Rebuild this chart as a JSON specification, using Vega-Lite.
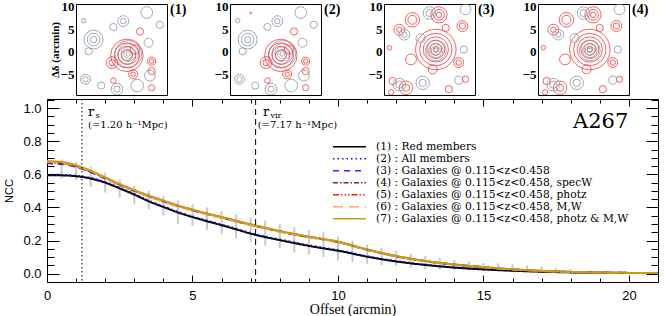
{
  "$schema": "https://vega.github.io/schema/vega-lite/v6.json",
  "padding": {"left": 3, "top": 0, "right": 0, "bottom": 0},
  "spacing": 2,
  "config": {
    "view": {"stroke": "black", "strokeWidth": 1},
    "axis": {"domain": false, "grid": false, "labelColor": "black", "titleColor": "black", "tickColor": "black", "tickWidth": 1}
  },
  "datasets": {
    "contours": [
      {"p":1,"c":"grey","x":1.5,"y":-0.5,"r":0.5},{"p":1,"c":"grey","x":1.5,"y":-0.5,"r":1},{"p":1,"c":"grey","x":1.5,"y":-0.5,"r":1.6},{"p":1,"c":"grey","x":1.5,"y":-0.5,"r":2.3},{"p":1,"c":"grey","x":1.5,"y":-0.5,"r":3.0},
      {"p":1,"c":"grey","x":-6.2,"y":2.7,"r":0.7},{"p":1,"c":"grey","x":-6.2,"y":2.7,"r":1.4},{"p":1,"c":"grey","x":-6.2,"y":2.7,"r":2.1},
      {"p":1,"c":"grey","x":-7.3,"y":0.1,"r":0.8},{"p":1,"c":"grey","x":0.4,"y":6.8,"r":0.6},{"p":1,"c":"grey","x":0.4,"y":6.8,"r":1.2},
      {"p":1,"c":"grey","x":-1.8,"y":5.5,"r":0.8},{"p":1,"c":"grey","x":5.6,"y":8.7,"r":1.3},{"p":1,"c":"grey","x":8.5,"y":6,"r":0.8},
      {"p":1,"c":"grey","x":-8.4,"y":6.9,"r":0.5},{"p":1,"c":"grey","x":-8,"y":-6.1,"r":0.6},{"p":1,"c":"grey","x":-8,"y":-6.1,"r":1.1},
      {"p":1,"c":"grey","x":-1,"y":-8.3,"r":0.7},{"p":1,"c":"grey","x":-1,"y":-8.3,"r":1.3},{"p":1,"c":"grey","x":6.3,"y":-5.3,"r":1.2},
      {"p":1,"c":"grey","x":3.5,"y":-7.5,"r":1.4},{"p":1,"c":"grey","x":-4.5,"y":-7.5,"r":0.8},{"p":1,"c":"grey","x":6,"y":2,"r":1.0},
      {"p":1,"c":"red","x":1.2,"y":-0.8,"r":1.2},{"p":1,"c":"red","x":1.2,"y":-0.8,"r":2.0},{"p":1,"c":"red","x":1.2,"y":-0.8,"r":2.8},{"p":1,"c":"red","x":1.2,"y":-0.8,"r":3.6},
      {"p":1,"c":"red","x":-2.1,"y":-2.4,"r":0.7},{"p":1,"c":"red","x":-2.1,"y":-2.4,"r":1.3},{"p":1,"c":"red","x":6.7,"y":-2.1,"r":0.5},{"p":1,"c":"red","x":6.7,"y":-2.1,"r":0.9},
      {"p":1,"c":"red","x":6.7,"y":-4.3,"r":0.8},{"p":1,"c":"red","x":2.6,"y":-5,"r":0.5},{"p":1,"c":"red","x":2.6,"y":-5,"r":1.0},
      {"p":1,"c":"red","x":4.1,"y":4.5,"r":0.8},{"p":1,"c":"red","x":6.7,"y":-8,"r":0.7},{"p":1,"c":"red","x":-1.8,"y":-6.4,"r":0.6},{"p":1,"c":"red","x":3,"y":0.5,"r":1.0},

      {"p":2,"c":"grey","x":1.5,"y":-0.5,"r":0.5},{"p":2,"c":"grey","x":1.5,"y":-0.5,"r":1},{"p":2,"c":"grey","x":1.5,"y":-0.5,"r":1.6},{"p":2,"c":"grey","x":1.5,"y":-0.5,"r":2.3},{"p":2,"c":"grey","x":1.5,"y":-0.5,"r":3.0},
      {"p":2,"c":"grey","x":-6.2,"y":2.7,"r":0.7},{"p":2,"c":"grey","x":-6.2,"y":2.7,"r":1.4},{"p":2,"c":"grey","x":-6.2,"y":2.7,"r":2.1},
      {"p":2,"c":"grey","x":-7.3,"y":0.1,"r":0.8},{"p":2,"c":"grey","x":0.4,"y":6.8,"r":0.6},{"p":2,"c":"grey","x":0.4,"y":6.8,"r":1.2},
      {"p":2,"c":"grey","x":-1.8,"y":5.5,"r":0.8},{"p":2,"c":"grey","x":5.6,"y":8.7,"r":1.3},{"p":2,"c":"grey","x":8.5,"y":6,"r":0.8},
      {"p":2,"c":"grey","x":-8.4,"y":6.9,"r":0.5},{"p":2,"c":"grey","x":-8,"y":-6.1,"r":0.6},{"p":2,"c":"grey","x":-8,"y":-6.1,"r":1.1},
      {"p":2,"c":"grey","x":-1,"y":-8.3,"r":0.7},{"p":2,"c":"grey","x":-1,"y":-8.3,"r":1.3},{"p":2,"c":"grey","x":6.3,"y":-5.3,"r":1.2},
      {"p":2,"c":"grey","x":3.5,"y":-7.5,"r":1.4},{"p":2,"c":"grey","x":-4.5,"y":-7.5,"r":0.8},{"p":2,"c":"grey","x":6,"y":2,"r":1.0},
      {"p":2,"c":"red","x":1.2,"y":-0.8,"r":1.2},{"p":2,"c":"red","x":1.2,"y":-0.8,"r":2.0},{"p":2,"c":"red","x":1.2,"y":-0.8,"r":2.8},{"p":2,"c":"red","x":1.2,"y":-0.8,"r":3.6},
      {"p":2,"c":"red","x":-2.1,"y":-2.4,"r":0.7},{"p":2,"c":"red","x":-2.1,"y":-2.4,"r":1.3},{"p":2,"c":"red","x":6.7,"y":-2.1,"r":0.5},{"p":2,"c":"red","x":6.7,"y":-2.1,"r":0.9},
      {"p":2,"c":"red","x":6.7,"y":-4.3,"r":0.8},{"p":2,"c":"red","x":2.6,"y":-5,"r":0.5},{"p":2,"c":"red","x":2.6,"y":-5,"r":1.0},
      {"p":2,"c":"red","x":4.1,"y":4.5,"r":0.8},{"p":2,"c":"red","x":6.7,"y":-8,"r":0.7},{"p":2,"c":"red","x":-1.8,"y":-6.4,"r":0.6},{"p":2,"c":"red","x":3,"y":0.5,"r":1.0},
      {"p":2,"c":"red","x":-5.5,"y":8.6,"r":0.2},

      {"p":3,"c":"red","x":1.4,"y":0.5,"r":0.6},{"p":3,"c":"red","x":1.4,"y":0.5,"r":1.3},{"p":3,"c":"red","x":1.4,"y":0.5,"r":2.0},{"p":3,"c":"red","x":1.4,"y":0.5,"r":2.8},{"p":3,"c":"red","x":1.4,"y":0.5,"r":3.6},{"p":3,"c":"red","x":1.4,"y":0.5,"r":4.5},
      {"p":3,"c":"red","x":2.1,"y":8.2,"r":0.6},{"p":3,"c":"red","x":2.1,"y":8.2,"r":1.2},{"p":3,"c":"red","x":2.1,"y":8.2,"r":1.8},
      {"p":3,"c":"red","x":-3.8,"y":7.1,"r":1.0},{"p":3,"c":"red","x":-3.8,"y":7.1,"r":1.6},{"p":3,"c":"red","x":-6.7,"y":4.9,"r":0.6},{"p":3,"c":"red","x":-6.7,"y":4.9,"r":1.2},
      {"p":3,"c":"red","x":3.6,"y":5.3,"r":0.8},{"p":3,"c":"red","x":7.3,"y":5.7,"r":0.7},{"p":3,"c":"red","x":7.3,"y":5.7,"r":1.2},
      {"p":3,"c":"red","x":6.5,"y":-2.4,"r":0.6},{"p":3,"c":"red","x":6.5,"y":-2.4,"r":1.1},{"p":3,"c":"red","x":8,"y":-6.1,"r":0.7},
      {"p":3,"c":"red","x":-8.2,"y":-6.5,"r":0.8},{"p":3,"c":"red","x":-5.2,"y":-8,"r":0.8},{"p":3,"c":"red","x":-5.2,"y":-8,"r":1.5},
      {"p":3,"c":"red","x":4.3,"y":-8.3,"r":0.8},{"p":3,"c":"red","x":0.7,"y":-3.9,"r":1.0},{"p":3,"c":"red","x":-4.1,"y":-1.7,"r":1.2},
      {"p":3,"c":"red","x":-8.9,"y":0.9,"r":0.5},{"p":3,"c":"red","x":-8.5,"y":-9,"r":0.6},
      {"p":3,"c":"grey","x":1.4,"y":0.3,"r":0.5},{"p":3,"c":"grey","x":1.4,"y":0.3,"r":1.0},{"p":3,"c":"grey","x":1.4,"y":0.3,"r":1.6},{"p":3,"c":"grey","x":1.4,"y":0.3,"r":2.3},
      {"p":3,"c":"grey","x":-5.6,"y":3.8,"r":0.6},{"p":3,"c":"grey","x":-5.6,"y":3.8,"r":1.2},{"p":3,"c":"grey","x":0,"y":8.6,"r":0.8},{"p":3,"c":"grey","x":0,"y":8.6,"r":1.4},
      {"p":3,"c":"grey","x":8,"y":9.4,"r":1.2},{"p":3,"c":"grey","x":-1.5,"y":-6.9,"r":0.8},{"p":3,"c":"grey","x":-1.5,"y":-6.9,"r":1.5},
      {"p":3,"c":"grey","x":-6.7,"y":-7.3,"r":0.8},{"p":3,"c":"grey","x":-6.7,"y":-7.3,"r":1.4},{"p":3,"c":"grey","x":6.5,"y":-6.3,"r":0.9},
      {"p":3,"c":"grey","x":7.6,"y":0.5,"r":0.8},{"p":3,"c":"grey","x":-2,"y":3,"r":1.0},

      {"p":4,"c":"red","x":1.4,"y":0.5,"r":0.6},{"p":4,"c":"red","x":1.4,"y":0.5,"r":1.3},{"p":4,"c":"red","x":1.4,"y":0.5,"r":2.0},{"p":4,"c":"red","x":1.4,"y":0.5,"r":2.8},{"p":4,"c":"red","x":1.4,"y":0.5,"r":3.6},{"p":4,"c":"red","x":1.4,"y":0.5,"r":4.5},
      {"p":4,"c":"red","x":2.1,"y":8.2,"r":0.6},{"p":4,"c":"red","x":2.1,"y":8.2,"r":1.2},{"p":4,"c":"red","x":2.1,"y":8.2,"r":1.8},
      {"p":4,"c":"red","x":-3.8,"y":7.1,"r":1.0},{"p":4,"c":"red","x":-3.8,"y":7.1,"r":1.6},{"p":4,"c":"red","x":-6.7,"y":4.9,"r":0.6},{"p":4,"c":"red","x":-6.7,"y":4.9,"r":1.2},
      {"p":4,"c":"red","x":3.6,"y":5.3,"r":0.8},{"p":4,"c":"red","x":7.3,"y":5.7,"r":0.7},{"p":4,"c":"red","x":7.3,"y":5.7,"r":1.2},
      {"p":4,"c":"red","x":6.5,"y":-2.4,"r":0.6},{"p":4,"c":"red","x":6.5,"y":-2.4,"r":1.1},{"p":4,"c":"red","x":8,"y":-6.1,"r":0.7},
      {"p":4,"c":"red","x":-8.2,"y":-6.5,"r":0.8},{"p":4,"c":"red","x":-5.2,"y":-8,"r":0.8},{"p":4,"c":"red","x":-5.2,"y":-8,"r":1.5},
      {"p":4,"c":"red","x":4.3,"y":-8.3,"r":0.8},{"p":4,"c":"red","x":0.7,"y":-3.9,"r":1.0},{"p":4,"c":"red","x":-4.1,"y":-1.7,"r":1.2},
      {"p":4,"c":"red","x":-8.9,"y":0.9,"r":0.5},{"p":4,"c":"red","x":-8.5,"y":-9,"r":0.6},
      {"p":4,"c":"grey","x":1.4,"y":0.3,"r":0.5},{"p":4,"c":"grey","x":1.4,"y":0.3,"r":1.0},{"p":4,"c":"grey","x":1.4,"y":0.3,"r":1.6},{"p":4,"c":"grey","x":1.4,"y":0.3,"r":2.3},
      {"p":4,"c":"grey","x":-5.6,"y":3.8,"r":0.6},{"p":4,"c":"grey","x":-5.6,"y":3.8,"r":1.2},{"p":4,"c":"grey","x":0,"y":8.6,"r":0.8},{"p":4,"c":"grey","x":0,"y":8.6,"r":1.4},
      {"p":4,"c":"grey","x":8,"y":9.4,"r":1.2},{"p":4,"c":"grey","x":-1.5,"y":-6.9,"r":0.8},{"p":4,"c":"grey","x":-1.5,"y":-6.9,"r":1.5},
      {"p":4,"c":"grey","x":-6.7,"y":-7.3,"r":0.8},{"p":4,"c":"grey","x":-6.7,"y":-7.3,"r":1.4},{"p":4,"c":"grey","x":6.5,"y":-6.3,"r":0.9},
      {"p":4,"c":"grey","x":7.6,"y":0.5,"r":0.8},{"p":4,"c":"grey","x":-2,"y":3,"r":1.0}
    ],
    "panels": [{"p":1,"t":"(1)"},{"p":2,"t":"(2)"},{"p":3,"t":"(3)"},{"p":4,"t":"(4)"}],
    "names": [
      {"key":"s1","label":"(1) : Red members"},
      {"key":"s2","label":"(2) : All members"},
      {"key":"s3","label":"(3) : Galaxies @ 0.115<z<0.458"},
      {"key":"s4","label":"(4) : Galaxies @ 0.115<z<0.458, specW"},
      {"key":"s5","label":"(5) : Galaxies @ 0.115<z<0.458, photz"},
      {"key":"s6","label":"(6) : Galaxies @ 0.115<z<0.458, M,W"},
      {"key":"s7","label":"(7) : Galaxies @ 0.115<z<0.458, photz & M,W"}
    ],
    "curves": [
      {"x":0,"s1":0.595,"s2":0.598,"s3":0.667,"s4":0.671,"s5":0.674,"s6":0.676,"s7":0.68},
      {"x":0.5,"s1":0.594,"s2":0.597,"s3":0.663,"s4":0.667,"s5":0.669,"s6":0.671,"s7":0.675},
      {"x":1,"s1":0.589,"s2":0.592,"s3":0.645,"s4":0.648,"s5":0.65,"s6":0.652,"s7":0.655},
      {"x":1.5,"s1":0.575,"s2":0.579,"s3":0.614,"s4":0.617,"s5":0.618,"s6":0.619,"s7":0.622},
      {"x":2,"s1":0.55,"s2":0.554,"s3":0.575,"s4":0.578,"s5":0.579,"s6":0.578,"s7":0.582},
      {"x":2.5,"s1":0.515,"s2":0.519,"s3":0.536,"s4":0.538,"s5":0.539,"s6":0.537,"s7":0.542},
      {"x":3,"s1":0.478,"s2":0.482,"s3":0.5,"s4":0.502,"s5":0.503,"s6":0.5,"s7":0.505},
      {"x":3.5,"s1":0.437,"s2":0.441,"s3":0.467,"s4":0.469,"s5":0.47,"s6":0.466,"s7":0.472},
      {"x":4,"s1":0.403,"s2":0.407,"s3":0.437,"s4":0.439,"s5":0.44,"s6":0.436,"s7":0.442},
      {"x":4.5,"s1":0.37,"s2":0.374,"s3":0.408,"s4":0.41,"s5":0.411,"s6":0.406,"s7":0.412},
      {"x":5,"s1":0.342,"s2":0.346,"s3":0.383,"s4":0.385,"s5":0.386,"s6":0.381,"s7":0.387},
      {"x":5.5,"s1":0.317,"s2":0.321,"s3":0.36,"s4":0.362,"s5":0.363,"s6":0.358,"s7":0.364},
      {"x":6,"s1":0.293,"s2":0.297,"s3":0.339,"s4":0.341,"s5":0.342,"s6":0.337,"s7":0.343},
      {"x":6.5,"s1":0.268,"s2":0.272,"s3":0.317,"s4":0.318,"s5":0.319,"s6":0.314,"s7":0.32},
      {"x":7,"s1":0.242,"s2":0.246,"s3":0.295,"s4":0.296,"s5":0.297,"s6":0.292,"s7":0.298},
      {"x":7.5,"s1":0.221,"s2":0.225,"s3":0.275,"s4":0.276,"s5":0.277,"s6":0.273,"s7":0.278},
      {"x":8,"s1":0.203,"s2":0.207,"s3":0.255,"s4":0.256,"s5":0.257,"s6":0.254,"s7":0.258},
      {"x":8.5,"s1":0.185,"s2":0.189,"s3":0.237,"s4":0.238,"s5":0.239,"s6":0.236,"s7":0.24},
      {"x":9,"s1":0.168,"s2":0.172,"s3":0.221,"s4":0.222,"s5":0.223,"s6":0.22,"s7":0.224},
      {"x":9.5,"s1":0.153,"s2":0.157,"s3":0.207,"s4":0.208,"s5":0.209,"s6":0.206,"s7":0.21},
      {"x":10,"s1":0.139,"s2":0.143,"s3":0.191,"s4":0.192,"s5":0.193,"s6":0.191,"s7":0.194},
      {"x":11,"s1":0.103,"s2":0.106,"s3":0.145,"s4":0.146,"s5":0.146,"s6":0.145,"s7":0.147},
      {"x":12,"s1":0.074,"s2":0.077,"s3":0.105,"s4":0.106,"s5":0.106,"s6":0.106,"s7":0.107},
      {"x":13,"s1":0.053,"s2":0.055,"s3":0.076,"s4":0.076,"s5":0.077,"s6":0.076,"s7":0.077},
      {"x":14,"s1":0.037,"s2":0.039,"s3":0.055,"s4":0.055,"s5":0.056,"s6":0.055,"s7":0.056},
      {"x":15,"s1":0.026,"s2":0.027,"s3":0.039,"s4":0.039,"s5":0.04,"s6":0.039,"s7":0.04},
      {"x":16,"s1":0.018,"s2":0.019,"s3":0.026,"s4":0.026,"s5":0.027,"s6":0.026,"s7":0.027},
      {"x":17,"s1":0.012,"s2":0.013,"s3":0.017,"s4":0.017,"s5":0.017,"s6":0.017,"s7":0.017},
      {"x":18,"s1":0.008,"s2":0.009,"s3":0.011,"s4":0.011,"s5":0.011,"s6":0.011,"s7":0.011},
      {"x":19,"s1":0.006,"s2":0.006,"s3":0.007,"s4":0.007,"s5":0.007,"s6":0.007,"s7":0.007},
      {"x":20,"s1":0.004,"s2":0.005,"s3":0.005,"s4":0.005,"s5":0.005,"s6":0.005,"s7":0.005},
      {"x":21,"s1":0.004,"s2":0.004,"s3":0.004,"s4":0.004,"s5":0.004,"s6":0.004,"s7":0.004}
    ],
    "errbars": [
      {"x":0.5,"lo":0.575,"hi":0.69},{"x":1,"lo":0.565,"hi":0.675},{"x":1.5,"lo":0.525,"hi":0.65},
      {"x":2,"lo":0.49,"hi":0.61},{"x":2.5,"lo":0.46,"hi":0.57},{"x":3,"lo":0.42,"hi":0.53},
      {"x":3.5,"lo":0.39,"hi":0.5},{"x":4,"lo":0.35,"hi":0.47},{"x":4.5,"lo":0.3,"hi":0.44},
      {"x":5,"lo":0.29,"hi":0.42},{"x":5.5,"lo":0.265,"hi":0.4},{"x":6,"lo":0.24,"hi":0.38},
      {"x":6.5,"lo":0.215,"hi":0.36},{"x":7,"lo":0.19,"hi":0.34},{"x":7.5,"lo":0.17,"hi":0.32},
      {"x":8,"lo":0.155,"hi":0.3},{"x":8.5,"lo":0.127,"hi":0.28},{"x":9,"lo":0.115,"hi":0.265},
      {"x":9.5,"lo":0.1,"hi":0.25},{"x":10,"lo":0.08,"hi":0.225},{"x":10.5,"lo":0.07,"hi":0.2},
      {"x":11,"lo":0.06,"hi":0.175},{"x":11.5,"lo":0.053,"hi":0.155},{"x":12,"lo":0.047,"hi":0.137},
      {"x":12.5,"lo":0.037,"hi":0.12},{"x":13,"lo":0.028,"hi":0.107},{"x":13.5,"lo":0.025,"hi":0.095},
      {"x":14,"lo":0.022,"hi":0.083},{"x":14.5,"lo":0.019,"hi":0.073},{"x":15,"lo":0.016,"hi":0.066},
      {"x":15.5,"lo":0.014,"hi":0.062},{"x":16,"lo":0.012,"hi":0.057},{"x":16.5,"lo":0.01,"hi":0.05},
      {"x":17,"lo":0.008,"hi":0.042},{"x":17.5,"lo":0.007,"hi":0.035},{"x":18,"lo":0.006,"hi":0.028}
    ]
  },
  "vconcat": [
    {
      "hconcat": [
        {
          "width": 1, "height": 91,
          "view": {"stroke": null},
          "data": {"values": []},
          "mark": {"type": "point", "opacity": 0}
        },
        {
          "width": 91, "height": 91,
          "layer": [
            {
              "data": {"name": "contours"},
              "transform": [{"filter": "datum.p == 1"}],
              "mark": {"type": "point", "filled": false, "shape": "circle", "strokeWidth": 0.8, "clip": true, "opacity": 1},
              "encoding": {
                "x": {"field": "x", "type": "quantitative", "scale": {"domain": [-10.1, 10.1], "nice": false, "zero": false}, "axis": {"labels": false, "ticks": false, "title": null}},
                "y": {"field": "y", "type": "quantitative", "scale": {"domain": [-9.6, 10.6], "nice": false, "zero": false}, "axis": {"values": [10, 5, 0, -5], "ticks": false, "labelOverlap": false, "labelFont": "Liberation Serif", "labelFontWeight": "bold", "labelFontSize": 13, "labelPadding": 2, "title": "Δδ (arcmin)", "titleFont": "Liberation Serif", "titleFontSize": 11, "titleFontWeight": "bold", "titlePadding": 0}},
                "stroke": {"field": "c", "type": "nominal", "scale": {"domain": ["grey", "red"], "range": ["#8793a6", "#ef3b3b"]}, "legend": null},
                "size": {"field": "r", "type": "quantitative", "scale": {"type": "pow", "exponent": 2, "zero": true, "domain": [0, 5], "range": [0, 2025]}, "legend": null}
              }
            },
            {
              "data": {"name": "panels"},
              "transform": [{"filter": "datum.p == 1"}],
              "mark": {"type": "text", "align": "left", "baseline": "middle", "dx": 3, "font": "Liberation Serif", "fontSize": 14, "fontWeight": "bold"},
              "encoding": {"x": {"datum": 10.1, "scale": {"domain": [-10.1, 10.1], "nice": false, "zero": false}, "axis": null}, "y": {"datum": 9.2, "scale": {"domain": [-9.6, 10.6], "nice": false, "zero": false}, "axis": null}, "text": {"field": "t"}}
            }
          ],
          "resolve": {"scale": {"x": "independent", "y": "independent"}, "axis": {"x": "independent", "y": "independent"}}
        },
        {
          "width": 91, "height": 91,
          "layer": [
            {
              "data": {"name": "contours"},
              "transform": [{"filter": "datum.p == 2"}],
              "mark": {"type": "point", "filled": false, "shape": "circle", "strokeWidth": 0.8, "clip": true, "opacity": 1},
              "encoding": {
                "x": {"field": "x", "type": "quantitative", "scale": {"domain": [-10.1, 10.1], "nice": false, "zero": false}, "axis": {"labels": false, "ticks": false, "title": null}},
                "y": {"field": "y", "type": "quantitative", "scale": {"domain": [-9.6, 10.6], "nice": false, "zero": false}, "axis": {"values": [10, 5, 0, -5], "ticks": false, "labelOverlap": false, "labelFont": "Liberation Serif", "labelFontWeight": "bold", "labelFontSize": 13, "labelPadding": 2, "minExtent": 42, "title": null}},
                "stroke": {"field": "c", "type": "nominal", "scale": {"domain": ["grey", "red"], "range": ["#8793a6", "#ef3b3b"]}, "legend": null},
                "size": {"field": "r", "type": "quantitative", "scale": {"type": "pow", "exponent": 2, "zero": true, "domain": [0, 5], "range": [0, 2025]}, "legend": null}
              }
            },
            {
              "data": {"name": "panels"},
              "transform": [{"filter": "datum.p == 2"}],
              "mark": {"type": "text", "align": "left", "baseline": "middle", "dx": 3, "font": "Liberation Serif", "fontSize": 14, "fontWeight": "bold"},
              "encoding": {"x": {"datum": 10.1, "scale": {"domain": [-10.1, 10.1], "nice": false, "zero": false}, "axis": null}, "y": {"datum": 9.2, "scale": {"domain": [-9.6, 10.6], "nice": false, "zero": false}, "axis": null}, "text": {"field": "t"}}
            }
          ],
          "resolve": {"scale": {"x": "independent", "y": "independent"}, "axis": {"x": "independent", "y": "independent"}}
        },
        {
          "width": 91, "height": 91,
          "layer": [
            {
              "data": {"name": "contours"},
              "transform": [{"filter": "datum.p == 3"}],
              "mark": {"type": "point", "filled": false, "shape": "circle", "strokeWidth": 0.8, "clip": true, "opacity": 1},
              "encoding": {
                "x": {"field": "x", "type": "quantitative", "scale": {"domain": [-10.1, 10.1], "nice": false, "zero": false}, "axis": {"labels": false, "ticks": false, "title": null}},
                "y": {"field": "y", "type": "quantitative", "scale": {"domain": [-9.6, 10.6], "nice": false, "zero": false}, "axis": {"values": [10, 5, 0, -5], "ticks": false, "labelOverlap": false, "labelFont": "Liberation Serif", "labelFontWeight": "bold", "labelFontSize": 13, "labelPadding": 2, "minExtent": 42, "title": null}},
                "stroke": {"field": "c", "type": "nominal", "scale": {"domain": ["grey", "red"], "range": ["#8793a6", "#ef3b3b"]}, "legend": null},
                "size": {"field": "r", "type": "quantitative", "scale": {"type": "pow", "exponent": 2, "zero": true, "domain": [0, 5], "range": [0, 2025]}, "legend": null}
              }
            },
            {
              "data": {"name": "panels"},
              "transform": [{"filter": "datum.p == 3"}],
              "mark": {"type": "text", "align": "left", "baseline": "middle", "dx": 3, "font": "Liberation Serif", "fontSize": 14, "fontWeight": "bold"},
              "encoding": {"x": {"datum": 10.1, "scale": {"domain": [-10.1, 10.1], "nice": false, "zero": false}, "axis": null}, "y": {"datum": 9.2, "scale": {"domain": [-9.6, 10.6], "nice": false, "zero": false}, "axis": null}, "text": {"field": "t"}}
            }
          ],
          "resolve": {"scale": {"x": "independent", "y": "independent"}, "axis": {"x": "independent", "y": "independent"}}
        },
        {
          "width": 91, "height": 91,
          "layer": [
            {
              "data": {"name": "contours"},
              "transform": [{"filter": "datum.p == 4"}],
              "mark": {"type": "point", "filled": false, "shape": "circle", "strokeWidth": 0.8, "clip": true, "opacity": 1},
              "encoding": {
                "x": {"field": "x", "type": "quantitative", "scale": {"domain": [-10.1, 10.1], "nice": false, "zero": false}, "axis": {"labels": false, "ticks": false, "title": null}},
                "y": {"field": "y", "type": "quantitative", "scale": {"domain": [-9.6, 10.6], "nice": false, "zero": false}, "axis": {"values": [10, 5, 0, -5], "ticks": false, "labelOverlap": false, "labelFont": "Liberation Serif", "labelFontWeight": "bold", "labelFontSize": 13, "labelPadding": 2, "minExtent": 42, "title": null}},
                "stroke": {"field": "c", "type": "nominal", "scale": {"domain": ["grey", "red"], "range": ["#8793a6", "#ef3b3b"]}, "legend": null},
                "size": {"field": "r", "type": "quantitative", "scale": {"type": "pow", "exponent": 2, "zero": true, "domain": [0, 5], "range": [0, 2025]}, "legend": null}
              }
            },
            {
              "data": {"name": "panels"},
              "transform": [{"filter": "datum.p == 4"}],
              "mark": {"type": "text", "align": "left", "baseline": "middle", "dx": 3, "font": "Liberation Serif", "fontSize": 14, "fontWeight": "bold"},
              "encoding": {"x": {"datum": 10.1, "scale": {"domain": [-10.1, 10.1], "nice": false, "zero": false}, "axis": null}, "y": {"datum": 9.2, "scale": {"domain": [-9.6, 10.6], "nice": false, "zero": false}, "axis": null}, "text": {"field": "t"}}
            }
          ],
          "resolve": {"scale": {"x": "independent", "y": "independent"}, "axis": {"x": "independent", "y": "independent"}}
        }
      ],
      "spacing": 0,
      "align": "none"
    },
    {
      "width": 611, "height": 183,
      "layer": [
        {
          "data": {"name": "errbars"},
          "mark": {"type": "rule", "color": "#c9c9c9", "strokeWidth": 2},
          "encoding": {
            "x": {"field": "x", "type": "quantitative", "scale": {"domain": [0, 21], "nice": false, "zero": false},
              "axis": {"orient": "bottom", "values": [0,1,2,3,4,5,6,7,8,9,10,11,12,13,14,15,16,17,18,19,20,21],
                "tickSize": {"condition": {"test": "datum.value % 5 === 0", "value": -7}, "value": -4},
                "labelExpr": "datum.value % 5 === 0 ? datum.label : ''",
                "labelFont": "Liberation Sans", "labelFontSize": 13, "labelPadding": 14, "labelFlush": false,
                "title": "Offset (arcmin)", "titleFont": "Liberation Serif", "titleFontSize": 14, "titleFontWeight": "normal", "titlePadding": 0}},
            "y": {"field": "lo", "type": "quantitative", "scale": {"domain": [-0.05, 1.055], "nice": false, "zero": false},
              "axis": {"orient": "left", "values": [0,0.05,0.1,0.15,0.2,0.25,0.3,0.35,0.4,0.45,0.5,0.55,0.6,0.65,0.7,0.75,0.8,0.85,0.9,0.95,1.0,1.05],
                "tickSize": {"condition": {"test": "abs(datum.value*5-round(datum.value*5))<0.001", "value": -12}, "value": -7},
                "labelExpr": "abs(datum.value*5-round(datum.value*5))<0.001 ? format(datum.value,'.1f') : ''",
                "labelFont": "Liberation Sans", "labelFontSize": 13, "labelPadding": 18, "labelFlush": false,
                "title": "NCC", "titleFont": "Liberation Sans", "titleFontSize": 11, "titleFontWeight": "normal", "titlePadding": 8}},
            "y2": {"field": "hi"}
          }
        },
        {
          "data": {"name": "curves"},
          "transform": [
            {"fold": ["s1", "s2", "s3", "s4", "s5", "s6", "s7"], "as": ["key", "v"]},
            {"lookup": "key", "from": {"data": {"name": "names"}, "key": "key", "fields": ["label"]}}
          ],
          "mark": {"type": "line", "interpolate": "monotone"},
          "encoding": {
            "x": {"field": "x", "type": "quantitative", "scale": {"domain": [0, 21], "nice": false, "zero": false},
              "axis": {"orient": "top", "values": [0,1,2,3,4,5,6,7,8,9,10,11,12,13,14,15,16,17,18,19,20,21],
                "tickSize": {"condition": {"test": "datum.value % 5 === 0", "value": -7}, "value": -4},
                "labels": false, "title": null}},
            "y": {"field": "v", "type": "quantitative", "scale": {"domain": [-0.05, 1.055], "nice": false, "zero": false},
              "axis": {"orient": "right", "values": [0,0.05,0.1,0.15,0.2,0.25,0.3,0.35,0.4,0.45,0.5,0.55,0.6,0.65,0.7,0.75,0.8,0.85,0.9,0.95,1.0,1.05],
                "tickSize": {"condition": {"test": "abs(datum.value*5-round(datum.value*5))<0.001", "value": -12}, "value": -7},
                "labels": false, "title": null}},
            "color": {"field": "label", "type": "nominal",
              "scale": {"domain": ["(1) : Red members", "(2) : All members", "(3) : Galaxies @ 0.115<z<0.458", "(4) : Galaxies @ 0.115<z<0.458, specW", "(5) : Galaxies @ 0.115<z<0.458, photz", "(6) : Galaxies @ 0.115<z<0.458, M,W", "(7) : Galaxies @ 0.115<z<0.458, photz & M,W"],
                "range": ["#000000", "#1a1ab4", "#2b2bf0", "#7d1a5a", "#ff1a1a", "#ffa366", "#c4a10c"]},
              "legend": {"title": null, "orient": "none", "legendX": 285, "legendY": 138, "symbolType": "stroke", "symbolSize": 1089, "symbolStrokeWidth": 1.5, "clipHeight": 9.5, "labelFont": "DejaVu Serif", "labelFontSize": 10.7, "labelColor": "black", "labelOffset": 9, "labelLimit": 400, "rowPadding": 0, "padding": 0}},
            "strokeDash": {"field": "label", "type": "nominal",
              "scale": {"domain": ["(1) : Red members", "(2) : All members", "(3) : Galaxies @ 0.115<z<0.458", "(4) : Galaxies @ 0.115<z<0.458, specW", "(5) : Galaxies @ 0.115<z<0.458, photz", "(6) : Galaxies @ 0.115<z<0.458, M,W", "(7) : Galaxies @ 0.115<z<0.458, photz & M,W"],
                "range": [[1, 0], [1.5, 3], [6, 5], [5, 2, 1.5, 2], [6, 2, 1.5, 2, 1.5, 2, 1.5, 2], [10, 6], [1, 0]]},
              "legend": {"title": null, "orient": "none", "legendX": 285, "legendY": 138, "symbolType": "stroke", "symbolSize": 1089, "symbolStrokeWidth": 1.5, "clipHeight": 9.5, "labelFont": "DejaVu Serif", "labelFontSize": 10.7, "labelColor": "black", "labelOffset": 9, "labelLimit": 400, "rowPadding": 0, "padding": 0}},
            "strokeWidth": {"field": "key", "type": "nominal", "scale": {"domain": ["s1","s2","s3","s4","s5","s6","s7"], "range": [2, 2, 2, 2, 2, 2, 3]}, "legend": null}
          }
        },
        {
          "data": {"values": [{"x": 1.2}]},
          "mark": {"type": "rule", "color": "black", "strokeWidth": 1, "strokeDash": [1.5, 2.5]},
          "encoding": {"x": {"field": "x", "type": "quantitative", "scale": {"domain": [0, 21], "nice": false, "zero": false}, "axis": null}}
        },
        {
          "data": {"values": [{"x": 7.17}]},
          "mark": {"type": "rule", "color": "black", "strokeWidth": 1, "strokeDash": [6, 4]},
          "encoding": {"x": {"field": "x", "type": "quantitative", "scale": {"domain": [0, 21], "nice": false, "zero": false}, "axis": null}}
        },
        {
          "data": {"values": [{"x": 1.41, "t": "r"}, {"x": 7.42, "t": "r"}]},
          "mark": {"type": "text", "align": "left", "baseline": "alphabetic", "font": "DejaVu Serif", "fontSize": 13, "color": "black"},
          "encoding": {
            "x": {"field": "x", "type": "quantitative", "scale": {"domain": [0, 21], "nice": false, "zero": false}, "axis": null},
            "y": {"datum": 0.955, "scale": {"domain": [-0.05, 1.055], "nice": false, "zero": false}, "axis": null},
            "text": {"field": "t"}
          }
        },
        {
          "data": {"values": [{"x": 1.41, "t": "s"}, {"x": 7.42, "t": "vir"}]},
          "mark": {"type": "text", "align": "left", "baseline": "alphabetic", "font": "DejaVu Serif", "fontSize": 8, "dx": 7.5, "dy": 2, "color": "black"},
          "encoding": {
            "x": {"field": "x", "type": "quantitative", "scale": {"domain": [0, 21], "nice": false, "zero": false}, "axis": null},
            "y": {"datum": 0.955, "scale": {"domain": [-0.05, 1.055], "nice": false, "zero": false}, "axis": null},
            "text": {"field": "t"}
          }
        },
        {
          "data": {"values": [{"x": 1.41, "t": "(=1.20 h⁻¹Mpc)"}, {"x": 7.24, "t": "(=7.17 h⁻¹Mpc)"}]},
          "mark": {"type": "text", "align": "left", "baseline": "alphabetic", "font": "DejaVu Serif", "fontSize": 10, "color": "black"},
          "encoding": {
            "x": {"field": "x", "type": "quantitative", "scale": {"domain": [0, 21], "nice": false, "zero": false}, "axis": null},
            "y": {"datum": 0.88, "scale": {"domain": [-0.05, 1.055], "nice": false, "zero": false}, "axis": null},
            "text": {"field": "t"}
          }
        },
        {
          "data": {"values": [{"x": 18.08, "t": "A267"}]},
          "mark": {"type": "text", "align": "left", "baseline": "alphabetic", "font": "DejaVu Serif", "fontSize": 21, "color": "black"},
          "encoding": {
            "x": {"field": "x", "type": "quantitative", "scale": {"domain": [0, 21], "nice": false, "zero": false}, "axis": null},
            "y": {"datum": 0.881, "scale": {"domain": [-0.05, 1.055], "nice": false, "zero": false}, "axis": null},
            "text": {"field": "t"}
          }
        }
      ],
      "resolve": {"axis": {"x": "independent", "y": "independent"}}
    }
  ]
}
